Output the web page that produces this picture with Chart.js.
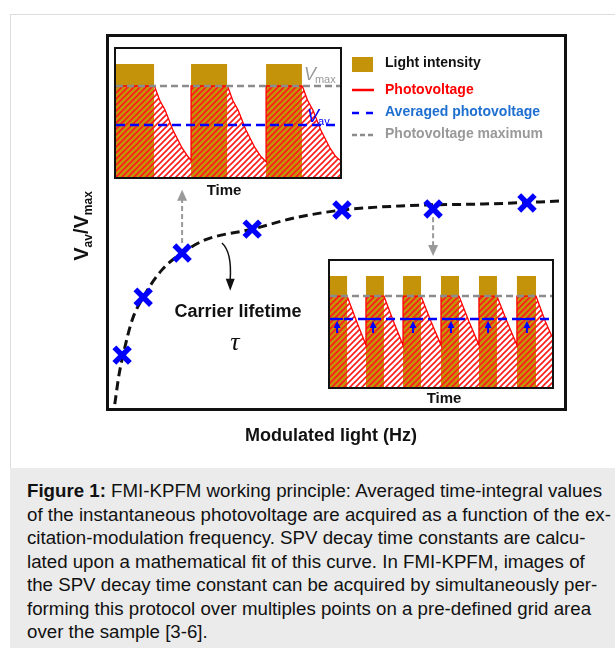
<!DOCTYPE html>
<html>
<head>
<meta charset="utf-8">
<script src="https://cdn.jsdelivr.net/npm/chart.js@4.4.1/dist/chart.umd.min.js"></script>
<style>
  body { margin: 0; width: 615px; height: 648px; background: #fff; position: relative; overflow: hidden;
         font-family: "Liberation Sans", Arial, sans-serif; }
  #panel { position: absolute; left: 10px; top: 14px; width: 620px; height: 454px; box-sizing: border-box;
           border-left: 1px solid #ddd; border-top: 1px solid #ddd; }
  #caption { position: absolute; left: 10px; top: 468px; width: 605px; height: 180px; box-sizing: border-box;
             background: #ebebeb; padding: 11px 0 0 17px; font-size: 18.7px; line-height: 23.5px; color: #111;
             white-space: nowrap; }
  canvas { position: absolute; }
</style>
</head>
<body>
<div id="panel"></div>
<canvas id="main" width="615" height="468" style="left:0;top:0"></canvas>
<canvas id="insetA" width="228" height="132" style="left:114px;top:47px"></canvas>
<canvas id="insetB" width="226" height="130" style="left:328px;top:259px"></canvas>
<div id="caption">
<b>Figure 1:</b> FMI-KPFM working principle: Averaged time-integral values<br>
of the instantaneous photovoltage are acquired as a function of the ex-<br>
citation-modulation frequency. SPV decay time constants are calcu-<br>
lated upon a mathematical fit of this curve. In FMI-KPFM, images of<br>
the SPV decay time constant can be acquired by simultaneously per-<br>
forming this protocol over multiples points on a pre-defined grid area<br>
over the sample [3-6].
</div>
<script>
const FONT = '"Liberation Sans", Arial, sans-serif';
const gold = '#c5930a';

// curva principal: Vav/Vmax frente a la frecuencia (unidades arbitrarias)
const freqMarks = [3.3, 7.9, 16.4, 31.7, 51.3, 71.2, 91.7];
const ratioMarks = [14.4, 29.9, 41.7, 48.1, 53.2, 53.5, 55.1];
const fitFreq = [1.7, 2.6, 3.5, 5.5, 7.9, 12.0, 16.4, 21.4, 31.7, 41.0, 51.3, 64.0, 71.2, 82.1, 98.9];
const fitRatio = [1.3, 9.0, 14.4, 23.8, 29.9, 37.2, 41.7, 45.2, 48.1, 51.1, 53.2, 54.3, 54.6, 54.8, 55.6];

// flechas guia (x, desde, hasta)
const guideX = [16.4, 71.2];
const guideFrom = [44.4, 51.3];
const guideTo = [58.6, 40.9];

// inset de baja frecuencia
const lightAX = [0, 17.0, 17.0, 33.5, 33.5, 49.6, 49.6, 67.0, 67.0, 83.0, 83.0, 100];
const lightAY = [0.883, 0.883, 0, 0, 0.883, 0.883, 0, 0, 0.883, 0.883, 0, 0];
const pvAX = [0, 17.0, 17.4, 19.5, 21.9, 25.4, 29.5, 32.1, 33.5, 33.5, 49.6, 50.0, 52.1, 54.5, 58.0, 62.1, 64.7, 67.0,
              67.0, 83.0, 83.4, 85.5, 87.9, 91.4, 95.5, 98.1, 100];
const pvAY = [0.711, 0.711, 0.70, 0.60, 0.523, 0.367, 0.227, 0.16, 0.13, 0.711, 0.711, 0.70, 0.60, 0.523, 0.367, 0.227, 0.16, 0.12,
              0.711, 0.711, 0.70, 0.60, 0.523, 0.367, 0.227, 0.16, 0.13];
const vmaxA = 0.711;
const vavA = 0.406;

// inset de alta frecuencia
const lightBX = [0, 7.7, 7.7, 16.2, 16.2, 24.3, 24.3, 32.9, 32.9, 41.0, 41.0, 50.0, 50.0, 58.1, 58.1, 67.1, 67.1, 75.2,
                 75.2, 84.2, 84.2, 92.8, 92.8, 100];
const lightBY = [0.881, 0.881, 0, 0, 0.881, 0.881, 0, 0, 0.881, 0.881, 0, 0, 0.881, 0.881, 0, 0, 0.881, 0.881,
                 0, 0, 0.881, 0.881, 0, 0];
const pvBX = [0, 7.7, 12.0, 16.2, 16.2, 24.3, 28.6, 32.9, 32.9, 41.0, 45.5, 50.0, 50.0, 58.1, 62.6, 67.1, 67.1, 75.2,
              79.7, 84.2, 84.2, 92.8, 97.0, 100];
const pvBY = [0.722, 0.722, 0.52, 0.333, 0.722, 0.722, 0.52, 0.333, 0.722, 0.722, 0.52, 0.333, 0.722, 0.722, 0.52, 0.333,
              0.722, 0.722, 0.52, 0.333, 0.722, 0.722, 0.52, 0.40];
const vmaxB = 0.722;
const vavB = 0.540;
const riseArrowX = [3.2, 19.4, 37.4, 54.5, 71.2, 88.7];

function pts(xs, ys) {
  return xs.map((x, i) => ({ x: x, y: ys[i] }));
}

function makeHatch(color) {
  const s = 6;
  const c = document.createElement('canvas');
  c.width = s; c.height = s;
  const g = c.getContext('2d');
  g.strokeStyle = color;
  g.lineWidth = 1.6;
  g.beginPath();
  g.moveTo(0, s); g.lineTo(s, 0);
  g.moveTo(-1, 1); g.lineTo(1, -1);
  g.moveTo(s - 1, s + 1); g.lineTo(s + 1, s - 1);
  g.stroke();
  return g.createPattern(c, 'repeat');
}

function arrowHead(ctx, x, y, dir, half, len) {
  // dir = -1 apunta hacia arriba, 1 hacia abajo
  ctx.beginPath();
  ctx.moveTo(x, y);
  ctx.lineTo(x - half, y - dir * len);
  ctx.lineTo(x + half, y - dir * len);
  ctx.closePath();
  ctx.fill();
}

function vLabel(ctx, x, y, sub, color, size) {
  ctx.fillStyle = color;
  ctx.textBaseline = 'alphabetic';
  ctx.textAlign = 'left';
  ctx.font = 'italic ' + size + 'px ' + FONT;
  ctx.fillText('V', x, y);
  const w = ctx.measureText('V').width;
  ctx.font = Math.round(size * 0.62) + 'px ' + FONT;
  ctx.fillText(sub, x + w - 1, y + 3);
}

const decor = {
  id: 'decor',
  afterDraw(chart) {
    const { ctx, chartArea: a } = chart;
    const sx = chart.scales.x, sy = chart.scales.y;
    ctx.save();

    // marco
    ctx.strokeStyle = '#111';
    ctx.lineWidth = 3;
    ctx.strokeRect(a.left + 0.5, a.top + 0.5, a.right - a.left, a.bottom - a.top);

    // flechas grises discontinuas
    ctx.strokeStyle = '#999';
    ctx.fillStyle = '#999';
    ctx.lineWidth = 2;
    guideX.forEach((gx, i) => {
      const px = sx.getPixelForValue(gx);
      const p0 = sy.getPixelForValue(guideFrom[i]);
      const p1 = sy.getPixelForValue(guideTo[i]);
      const dir = p1 > p0 ? 1 : -1;
      ctx.setLineDash([5, 3]);
      ctx.beginPath();
      ctx.moveTo(px, p0);
      ctx.lineTo(px, p1 - dir * 9);
      ctx.stroke();
      ctx.setLineDash([]);
      arrowHead(ctx, px, p1, dir, 5, 11);
    });

    // flecha curva negra
    ctx.strokeStyle = '#111';
    ctx.fillStyle = '#111';
    ctx.lineWidth = 1.5;
    ctx.beginPath();
    ctx.moveTo(sx.getPixelForValue(25.1), sy.getPixelForValue(44.4));
    ctx.quadraticCurveTo(sx.getPixelForValue(27.3), sy.getPixelForValue(42.0),
                         sx.getPixelForValue(26.9), sy.getPixelForValue(34.5));
    ctx.stroke();
    arrowHead(ctx, sx.getPixelForValue(26.9), sy.getPixelForValue(31.6), 1, 4.5, 12);

    // textos
    ctx.fillStyle = '#111';
    ctx.textAlign = 'center';
    ctx.textBaseline = 'middle';
    ctx.font = 'bold 18px ' + FONT;
    ctx.fillText('Carrier lifetime', sx.getPixelForValue(28.6), sy.getPixelForValue(25.9));
    ctx.font = 'italic 26px "Liberation Serif", "DejaVu Serif", serif';
    ctx.fillText('τ', sx.getPixelForValue(27.9), sy.getPixelForValue(17.6));
    ctx.font = 'bold 15px ' + FONT;
    ctx.fillText('Time', 224, 191);
    ctx.fillText('Time', 444, 399);

    // titulo eje x
    ctx.font = 'bold 18px ' + FONT;
    ctx.fillText('Modulated light (Hz)', 331, 436);

    // titulo eje y: Vav/Vmax
    ctx.save();
    ctx.translate(88, 226);
    ctx.rotate(-Math.PI / 2);
    const parts = [['V', 20, 0], ['av', 12, 4], ['/V', 20, 0], ['max', 12, 4]];
    let total = 0;
    parts.forEach(p => { ctx.font = 'bold ' + p[1] + 'px ' + FONT; total += ctx.measureText(p[0]).width; });
    let cx = -total / 2;
    ctx.textAlign = 'left';
    ctx.textBaseline = 'alphabetic';
    parts.forEach(p => {
      ctx.font = 'bold ' + p[1] + 'px ' + FONT;
      ctx.fillText(p[0], cx, p[2]);
      cx += ctx.measureText(p[0]).width;
    });
    ctx.restore();

    // leyenda
    ctx.textAlign = 'left';
    ctx.textBaseline = 'middle';
    ctx.font = 'bold 14px ' + FONT;
    ctx.fillStyle = gold;
    ctx.fillRect(352, 57, 21, 15);
    ctx.fillStyle = '#111';
    ctx.fillText('Light intensity', 385, 63);

    ctx.lineWidth = 2.5;
    ctx.strokeStyle = '#ff0000';
    ctx.beginPath(); ctx.moveTo(352, 90); ctx.lineTo(374, 90); ctx.stroke();
    ctx.fillStyle = '#ff0000';
    ctx.fillText('Photovoltage', 385, 90);

    ctx.strokeStyle = '#0000ff';
    ctx.beginPath();
    ctx.moveTo(352, 113); ctx.lineTo(359, 113);
    ctx.moveTo(366, 113); ctx.lineTo(373, 113);
    ctx.stroke();
    ctx.fillStyle = '#1e6fd0';
    ctx.fillText('Averaged photovoltage', 385, 112);

    ctx.strokeStyle = '#8c8c8c';
    ctx.beginPath();
    ctx.moveTo(352, 135); ctx.lineTo(357, 135);
    ctx.moveTo(360, 135); ctx.lineTo(365, 135);
    ctx.moveTo(368, 135); ctx.lineTo(373, 135);
    ctx.stroke();
    ctx.fillStyle = '#999';
    ctx.fillText('Photovoltage maximum', 385, 134);

    ctx.restore();
  }
};

new Chart(document.getElementById('main'), {
  type: 'scatter',
  data: {
    datasets: [
      {
        label: 'Medidas',
        data: pts(freqMarks, ratioMarks),
        pointStyle: 'crossRot',
        pointRadius: 11,
        pointBorderWidth: 5.5,
        pointBorderColor: '#0000ff',
        pointBackgroundColor: '#0000ff',
        order: 1
      },
      {
        label: 'Ajuste',
        type: 'line',
        data: pts(fitFreq, fitRatio),
        borderColor: '#111',
        borderWidth: 3,
        borderDash: [9, 5],
        pointRadius: 0,
        cubicInterpolationMode: 'monotone',
        fill: false,
        order: 2
      }
    ]
  },
  options: {
    responsive: false,
    animation: false,
    layout: { padding: { left: 107, right: 50, top: 35, bottom: 59 } },
    scales: {
      x: { type: 'linear', min: 0, max: 100, display: false },
      y: { type: 'linear', min: 0, max: 100, display: false }
    },
    plugins: { legend: { display: false }, tooltip: { enabled: false } }
  },
  plugins: [decor]
});

function makeInset(id, lx, ly, px, py, vmax, vav, extra) {
  const hatch = makeHatch('#ff1a1a');
  const frame = {
    id: 'frame' + id,
    beforeDraw(chart) {
      const { ctx, chartArea: a } = chart;
      ctx.save();
      ctx.fillStyle = '#fff';
      ctx.fillRect(a.left, a.top, a.right - a.left, a.bottom - a.top);
      ctx.restore();
    },
    afterDraw(chart) {
      const { ctx, chartArea: a } = chart;
      ctx.save();
      extra(chart);
      ctx.strokeStyle = '#111';
      ctx.lineWidth = 2;
      ctx.strokeRect(a.left - 1, a.top - 1, a.right - a.left + 2, a.bottom - a.top + 2);
      ctx.restore();
    }
  };
  return new Chart(document.getElementById(id), {
    type: 'line',
    data: {
      datasets: [
        { label: 'Photovoltage maximum', data: [{ x: 0, y: vmax }, { x: 100, y: vmax }],
          borderColor: '#8c8c8c', borderWidth: 2.5, borderDash: [7, 4], pointRadius: 0, fill: false, order: 1 },
        { label: 'Averaged photovoltage', data: [{ x: 0, y: vav }, { x: 100, y: vav }],
          borderColor: '#0000ff', borderWidth: 2.5, borderDash: [9, 5], pointRadius: 0, fill: false, order: 2 },
        { label: 'Photovoltage', data: pts(px, py), borderColor: '#ff0000', borderWidth: 1.3,
          backgroundColor: hatch, fill: 'origin', pointRadius: 0, tension: 0, order: 3 },
        { label: 'Light intensity', data: pts(lx, ly), borderColor: 'rgba(0,0,0,0)', borderWidth: 1,
          backgroundColor: gold, fill: 'origin', pointRadius: 0, tension: 0, order: 4 }
      ]
    },
    options: {
      responsive: false,
      animation: false,
      layout: { padding: 2 },
      scales: {
        x: { type: 'linear', min: 0, max: 100, display: false },
        y: { type: 'linear', min: 0, max: 1, display: false }
      },
      plugins: { legend: { display: false }, tooltip: { enabled: false } }
    },
    plugins: [frame]
  });
}

makeInset('insetA', lightAX, lightAY, pvAX, pvAY, vmaxA, vavA, chart => {
  const { ctx } = chart;
  const sx = chart.scales.x, sy = chart.scales.y;
  vLabel(ctx, sx.getPixelForValue(83.9), sy.getPixelForValue(0.76), 'max', '#999', 18);
  vLabel(ctx, sx.getPixelForValue(85.3), sy.getPixelForValue(0.43), 'av', '#0000ff', 18);
});

makeInset('insetB', lightBX, lightBY, pvBX, pvBY, vmaxB, vavB, chart => {
  const { ctx } = chart;
  const sx = chart.scales.x, sy = chart.scales.y;
  ctx.strokeStyle = '#0000ff';
  ctx.fillStyle = '#0000ff';
  ctx.lineWidth = 2;
  riseArrowX.forEach(ax => {
    const x = sx.getPixelForValue(ax);
    const top = sy.getPixelForValue(vavB);
    ctx.beginPath();
    ctx.moveTo(x - 6, top); ctx.lineTo(x + 6, top);
    ctx.moveTo(x, top + 14); ctx.lineTo(x, top + 6);
    ctx.stroke();
    arrowHead(ctx, x, top + 2, -1, 3.5, 7);
  });
});
</script>
</body>
</html>
